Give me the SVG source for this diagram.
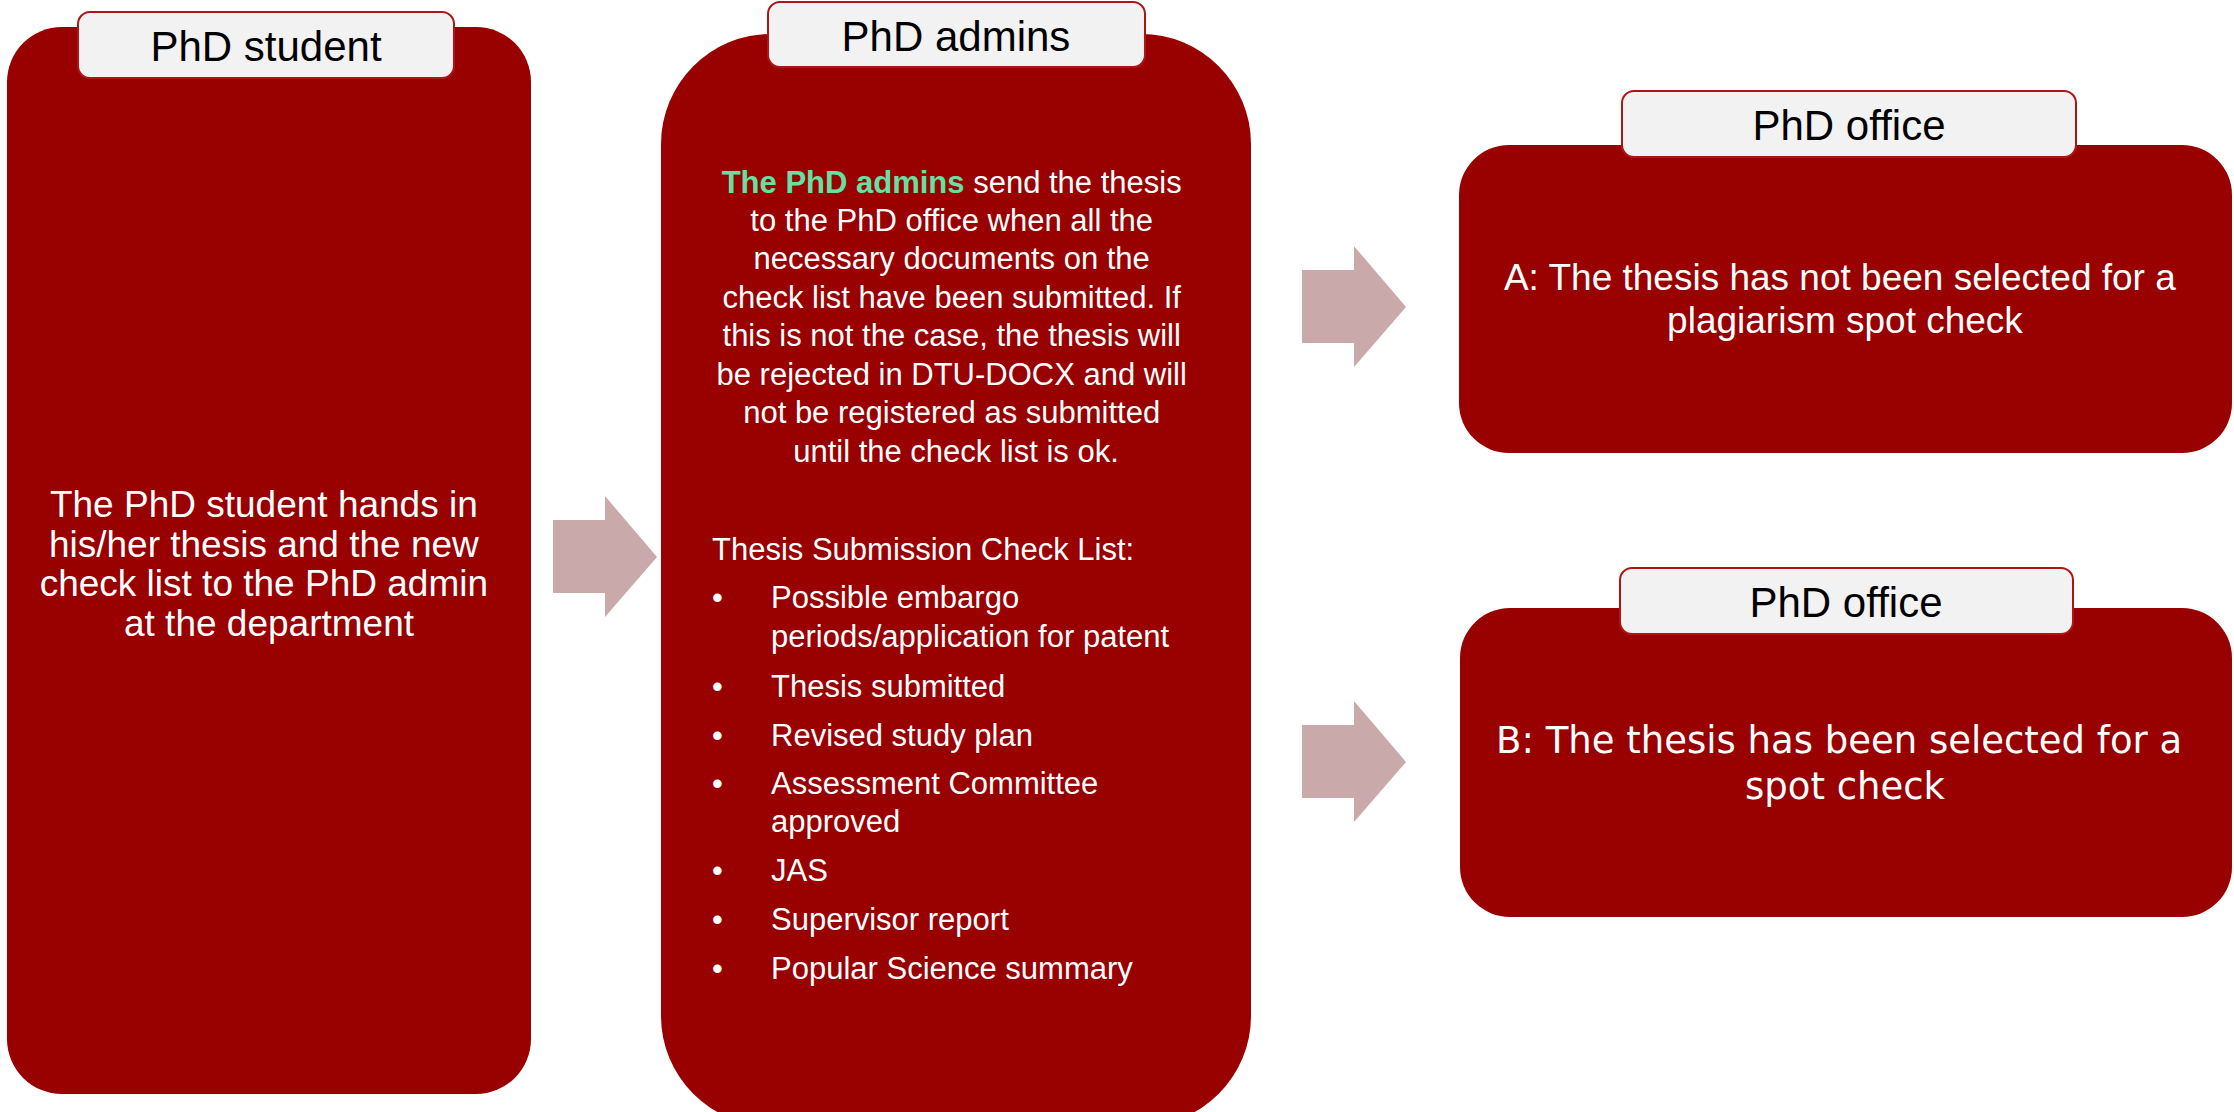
<svg xmlns="http://www.w3.org/2000/svg" width="2234" height="1112" viewBox="0 0 2234 1112">
<defs>
<style>
.box{fill:#990000;}
.tab{fill:#F2F2F2;stroke:#B01515;stroke-width:2;}
.title{font-family:"Liberation Sans",Arial,sans-serif;font-size:42px;fill:#000;text-anchor:middle;}
.body{font-family:"Liberation Sans",Arial,sans-serif;fill:#fff;}
.mid{text-anchor:middle;}
.arrow{fill:#C9A9AA;}
.green{fill:#66E0A3;font-weight:bold;}
</style>
<polygon id="arrowShape" points="0,24 52,24 52,0 104,61 52,121 52,97 0,97"/>
</defs>
<rect width="2234" height="1112" fill="#fff"/>

<g id="connectors">
<use href="#arrowShape" class="arrow" x="553" y="496"/>
<use href="#arrowShape" class="arrow" x="1302" y="246"/>
<use href="#arrowShape" class="arrow" x="1302" y="701"/>
</g>

<g id="phd-student">
<rect class="box" x="7" y="27" width="524" height="1067" rx="55" ry="55"/>
<rect class="tab" x="78" y="12" width="376" height="66" rx="12" ry="12"/>
<text class="title" x="266" y="61">PhD student</text>
<text class="body mid" font-size="37" x="269">
<tspan x="269" y="517">The PhD student hands in</tspan>
<tspan x="269" y="557">his/her thesis and the new</tspan>
<tspan x="269" y="596">check list to the PhD admin</tspan>
<tspan x="269" y="636">at the department</tspan>
</text>
</g>

<g id="phd-admins">
<rect class="box" x="661" y="34" width="590" height="1092" rx="110" ry="110"/>
<rect class="tab" x="768" y="2" width="377" height="65" rx="12" ry="12"/>
<text class="title" x="956" y="51">PhD admins</text>
<text class="body mid" font-size="31">
<tspan x="956" y="193"><tspan class="green">The PhD admins</tspan> send the thesis</tspan>
<tspan x="956" y="231">to the PhD office when all the</tspan>
<tspan x="956" y="269">necessary documents on the</tspan>
<tspan x="956" y="308">check list have been submitted. If</tspan>
<tspan x="956" y="346">this is not the case, the thesis will</tspan>
<tspan x="956" y="385">be rejected in DTU-DOCX and will</tspan>
<tspan x="956" y="423">not be registered as submitted</tspan>
<tspan x="956" y="462">until the check list is ok.</tspan>
</text>
<text class="body" font-size="31">
<tspan x="712" y="560">Thesis Submission Check List:</tspan>
<tspan x="712" y="608">•</tspan><tspan x="771" y="608">Possible embargo</tspan>
<tspan x="771" y="647">periods/application for patent</tspan>
<tspan x="712" y="697">•</tspan><tspan x="771" y="697">Thesis submitted</tspan>
<tspan x="712" y="746">•</tspan><tspan x="771" y="746">Revised study plan</tspan>
<tspan x="712" y="794">•</tspan><tspan x="771" y="794">Assessment Committee</tspan>
<tspan x="771" y="832">approved</tspan>
<tspan x="712" y="881">•</tspan><tspan x="771" y="881">JAS</tspan>
<tspan x="712" y="930">•</tspan><tspan x="771" y="930">Supervisor report</tspan>
<tspan x="712" y="979">•</tspan><tspan x="771" y="979">Popular Science summary</tspan>
</text>
</g>

<g id="phd-office-a">
<rect class="box" x="1459" y="145" width="773" height="308" rx="50" ry="50"/>
<rect class="tab" x="1622" y="91" width="454" height="66" rx="12" ry="12"/>
<text class="title" x="1849" y="140">PhD office</text>
<text class="body mid" font-size="37">
<tspan x="1845" y="290">A: The thesis has not been selected for a</tspan>
<tspan x="1845" y="333">plagiarism spot check</tspan>
</text>
</g>

<g id="phd-office-b">
<rect class="box" x="1460" y="608" width="772" height="309" rx="50" ry="50"/>
<rect class="tab" x="1620" y="568" width="453" height="66" rx="12" ry="12"/>
<text class="title" x="1846" y="617">PhD office</text>
<text class="body mid" font-family="DejaVu Sans, Verdana, sans-serif" font-size="37" style="font-family:'DejaVu Sans',Verdana,sans-serif">
<tspan x="1845" y="753">B: The thesis has been selected for a</tspan>
<tspan x="1845" y="799">spot check</tspan>
</text>
</g>
</svg>
